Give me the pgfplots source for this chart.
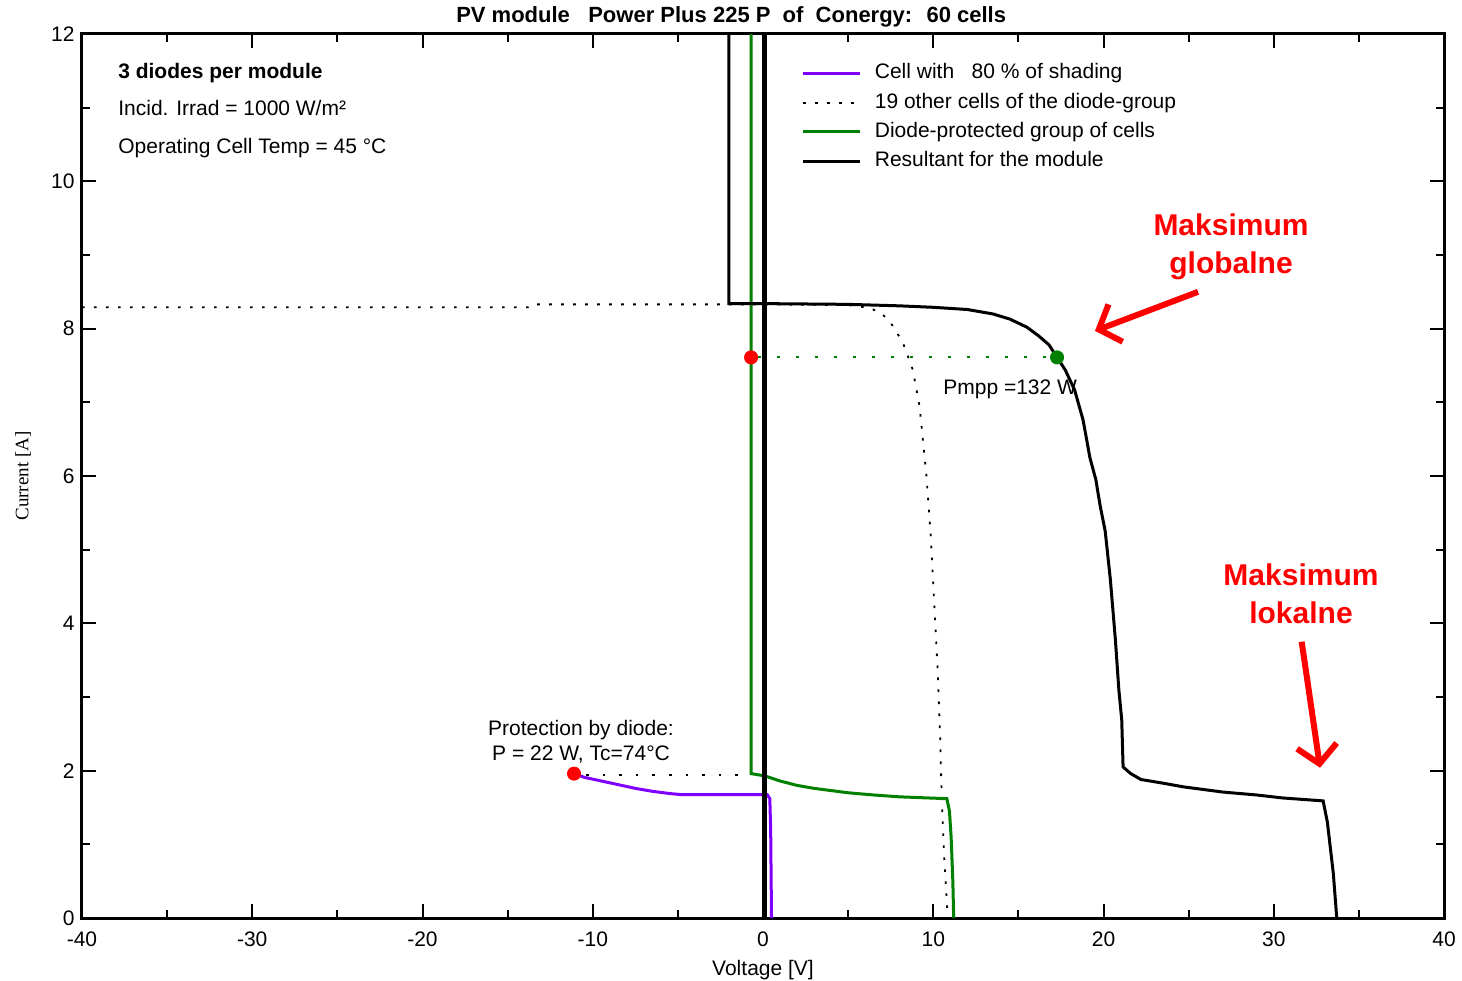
\documentclass[border=0pt]{standalone}
\usepackage{fontspec}
\setmainfont{Liberation Sans}
\newfontfamily\serifax{Liberation Serif}
\usepackage{pgfplots}
\pgfplotsset{compat=1.18}
\usetikzlibrary{arrows.meta}
\definecolor{pvviolet}{RGB}{128,0,255}
\definecolor{pvgreen}{RGB}{0,128,0}
\begin{document}
\fontsize{10.5}{12.6}\selectfont
\begin{tikzpicture}
\begin{axis}[
  scale only axis, width=681pt, height=442pt,
  xmin=-40, xmax=40, ymin=0, ymax=12,
  xtick={-40,-30,...,40}, ytick={0,2,...,12},
  minor xtick={-35,-25,...,35}, minor ytick={1,3,...,11},
  tick align=inside, major tick length=7pt, minor tick length=4pt,
  tick style={black, line width=1pt},
  axis line style={line width=1.5pt},
  /pgf/number format/assume math mode=true,
  tick label style={font=\fontsize{10.5}{12}\selectfont},
  xticklabel style={yshift=-3pt},
  clip=false,
  legend cell align=left,
  legend image code/.code={\draw[#1] (0pt,0pt) -- (28.5pt,0pt);},
  legend style={at={(axis cs:2.26,11.67)}, anchor=north west, draw=none, fill=none,
    inner sep=0pt, row sep=0pt, font=\fontsize{10.5}{12}\selectfont,
    nodes={inner sep=0pt, text height=8pt, text depth=2.5pt, inner ysep=2.07pt},
    /tikz/every odd column/.append style={column sep=6.5pt}},
]
% Cell with 80% shading
\addplot[pvviolet, line width=1.5pt] coordinates {
(-11.1,1.96) (-10.5,1.91) (-9.5,1.86) (-8.5,1.81) (-7.5,1.76) (-6.5,1.72) (-5.5,1.69)
(-4.8,1.675) (0.25,1.675) (0.4,1.62) (0.45,1.2) (0.5,0)};
\addlegendentry{Cell with \ \ 80 \% of shading}
% 19 other cells
\addplot[black, line width=0.9pt, dash pattern=on 1.3pt off 4.7pt] coordinates {
(-40,8.29) (-13.8,8.29) (-13.5,8.33) (0,8.33) (5,8.32) (6.3,8.28) (7.0,8.2) (7.5,8.08)
(8.2,7.82) (8.8,7.44) (9.2,6.94) (9.6,6.0) (9.85,5.2) (10.05,4.3) (10.25,3.4) (10.4,2.5)
(10.5,1.6) (10.65,0.8) (10.85,0)};
\addlegendentry{19 other cells of the diode-group}
% diode-protected group
\addplot[pvgreen, line width=1.5pt] coordinates {
(-0.7,12) (-0.7,1.96) (0.1,1.93) (1,1.86) (2,1.8) (3,1.76) (4,1.73) (5,1.7) (6.5,1.67)
(8,1.645) (10.8,1.62) (10.95,1.45) (11.05,1.1) (11.15,0.5) (11.2,0)};
\addlegendentry{Diode-protected group of cells}
% resultant
\addplot[black, line width=1.5pt] coordinates {
(-2.0,12) (-2.0,8.34) (0.1,8.34) (5,8.33) (8,8.31) (10,8.29) (12,8.26) (13.5,8.2)
(14.5,8.13) (15.5,8.02) (16.2,7.9) (16.8,7.78) (17.3,7.6) (17.75,7.44) (18.3,7.17)
(18.8,6.76) (19.2,6.25) (19.55,5.95) (19.8,5.6) (20.1,5.25) (20.4,4.6) (20.7,3.77)
(20.9,3.1) (21.07,2.69) (21.15,2.05) (21.6,1.96) (22.2,1.88) (23.5,1.83) (24.7,1.78)
(27.0,1.71) (29,1.67) (30.5,1.63) (32.9,1.59) (33.15,1.3) (33.3,1.0) (33.5,0.6) (33.7,0)};
\addlegendentry{Resultant for the module}
% thick zero-voltage line
\addplot[black, line width=2.5pt, forget plot] coordinates {(0.1,0) (0.1,12)};
% dotted markers
\addplot[black, line width=0.9pt, dash pattern=on 1.3pt off 7pt, forget plot] coordinates {(-10.4,1.94) (-0.9,1.94)};
\addplot[pvgreen, line width=1pt, dash pattern=on 1.5pt off 8pt, forget plot] coordinates {(-0.3,7.61) (17.0,7.61)};
% points
\addplot[only marks, mark=*, mark size=3.3pt, red, forget plot] coordinates {(-0.7,7.61) (-11.1,1.96)};
\addplot[only marks, mark=*, mark size=3.3pt, pvgreen, forget plot] coordinates {(17.27,7.61)};
% red arrows
\addplot[red, line width=3pt, -{Straight Barb[length=9pt,width=20pt]}, forget plot] coordinates {(25.55,8.50) (19.5,7.97)};
\addplot[red, line width=3pt, -{Straight Barb[length=9pt,width=20pt]}, forget plot] coordinates {(31.64,3.75) (32.72,2.04)};
% texts
\node[anchor=base west, font=\fontsize{11}{13}\selectfont\bfseries] at (axis cs:-18.45,12) [yshift=5.5pt] {PV module \ \ Power Plus 225 P \ of \ Conergy: \ 60 cells};
\node[anchor=base west, inner sep=0pt, font=\bfseries] at (axis cs:-37.89,11.40) {3 diodes per module};
\node[anchor=base west, inner sep=0pt] at (axis cs:-37.89,10.89) {Incid. Irrad = 1000 W/m²};
\node[anchor=base west, inner sep=0pt] at (axis cs:-37.89,10.38) {Operating Cell Temp = 45 °C};
\node[anchor=base west, inner sep=0pt] at (axis cs:10.57,7.10) {Pmpp =132 W};
\node[anchor=base, inner sep=0pt] at (axis cs:-10.69,2.48) {Protection by diode:};
\node[anchor=base, inner sep=0pt] at (axis cs:-10.69,2.14) {P = 22 W, Tc=74°C};
\node[anchor=north, inner sep=0pt, align=center, red, font=\fontsize{15}{19}\selectfont\bfseries] at (axis cs:27.49,9.57) {Maksimum\\globalne};
\node[anchor=north, inner sep=0pt, align=center, red, font=\fontsize{15}{19}\selectfont\bfseries] at (axis cs:31.6,4.82) {Maksimum\\lokalne};
\node[anchor=base, inner sep=0pt] at (axis cs:0,0) [yshift=-28.5pt] {Voltage [V]};
\node[rotate=90, inner sep=0pt, font=\serifax\fontsize{9.5}{11}\selectfont] at ([xshift=-29.5pt]axis cs:-40,6.0) {Current [A]};
\end{axis}
\pgfresetboundingbox
\path[use as bounding box] ([shift={(-41pt,-31pt)}]current axis.south west) rectangle ([shift={(9pt,17pt)}]current axis.north east);
\end{tikzpicture}
\end{document}
